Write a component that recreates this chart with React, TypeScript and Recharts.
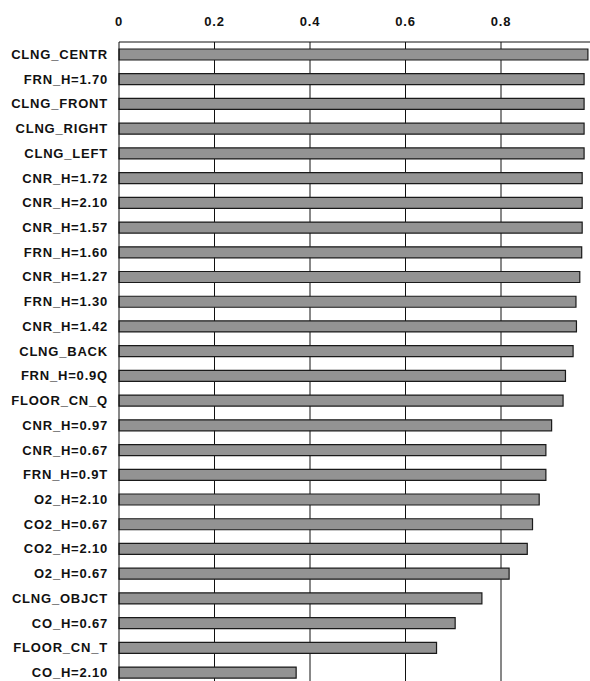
import React from "react";
import { BarChart, Bar, XAxis, YAxis, CartesianGrid } from "recharts";

const categories = [
  "CLNG_CENTR",
  "FRN_H=1.70",
  "CLNG_FRONT",
  "CLNG_RIGHT",
  "CLNG_LEFT",
  "CNR_H=1.72",
  "CNR_H=2.10",
  "CNR_H=1.57",
  "FRN_H=1.60",
  "CNR_H=1.27",
  "FRN_H=1.30",
  "CNR_H=1.42",
  "CLNG_BACK",
  "FRN_H=0.9Q",
  "FLOOR_CN_Q",
  "CNR_H=0.97",
  "CNR_H=0.67",
  "FRN_H=0.9T",
  "O2_H=2.10",
  "CO2_H=0.67",
  "CO2_H=2.10",
  "O2_H=0.67",
  "CLNG_OBJCT",
  "CO_H=0.67",
  "FLOOR_CN_T",
  "CO_H=2.10",
];

const values = [
  0.982, 0.974, 0.974, 0.974, 0.974, 0.97, 0.97, 0.97, 0.969, 0.965, 0.957,
  0.958, 0.951, 0.935, 0.93, 0.906, 0.894, 0.894, 0.88, 0.866, 0.855, 0.817,
  0.76, 0.704, 0.665, 0.371,
];

const xTicks = [0, 0.2, 0.4, 0.6, 0.8];
const xTickLabels = ["0", "0.2", "0.4", "0.6", "0.8"];

const data = categories.map((name, i) => ({ name, value: values[i] }));

const font = "'Liberation Sans', Arial, sans-serif";
const tickStyle = {
  fill: "#111",
  fontSize: 13,
  fontWeight: "bold",
  fontFamily: font,
  letterSpacing: 0.8,
};

export default function App() {
  return (
    <div
      style={{
        position: "fixed",
        top: 0,
        left: 0,
        width: 590,
        height: 681,
        overflow: "hidden",
        background: "#fff",
      }}
    >
      <BarChart
        width={600}
        height={700}
        data={data}
        layout="vertical"
        barCategoryGap={0}
        margin={{ top: 12, right: 3.5, bottom: 15.2, left: 0 }}
      >
        <CartesianGrid
          horizontal={false}
          stroke="#111"
          strokeWidth={1}
          verticalValues={[0.2, 0.4, 0.6, 0.8, 1]}
        />
        <XAxis
          type="number"
          orientation="top"
          domain={[0, 1]}
          ticks={xTicks}
          tickFormatter={(v: number) => xTickLabels[xTicks.indexOf(v)] ?? String(v)}
          height={30}
          tickLine={false}
          tickSize={0}
          tickMargin={16}
          axisLine={{ stroke: "#111" }}
          tick={tickStyle}
        />
        <YAxis
          type="category"
          dataKey="name"
          width={119}
          interval={0}
          tickLine={false}
          tickSize={0}
          tickMargin={11}
          axisLine={{ stroke: "#111" }}
          tick={tickStyle}
        />
        <Bar
          dataKey="value"
          barSize={11}
          fill="#939393"
          stroke="#1a1a1a"
          strokeWidth={1.2}
          isAnimationActive={false}
        />
      </BarChart>
    </div>
  );
}
